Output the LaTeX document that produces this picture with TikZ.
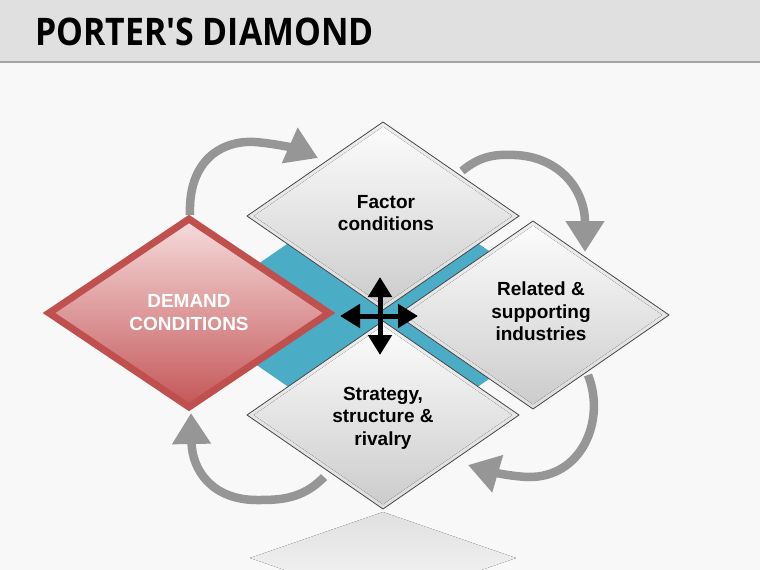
\documentclass[tikz,border=0pt]{standalone}
\usepackage{fontspec}
\setmainfont{Liberation Sans}
\newfontfamily\titlefont{Open Sans}
\usetikzlibrary{shapes.geometric,arrows.meta,calc}
\pgfdeclarelayer{bglayer}
\pgfdeclarelayer{arrowlayer}
\pgfsetlayers{bglayer,arrowlayer,main}
\definecolor{bgc}{RGB}{248,248,248}
\definecolor{barc}{RGB}{224,224,224}
\definecolor{barline}{RGB}{165,165,165}
\definecolor{bluec}{RGB}{75,172,198}
\definecolor{redb}{RGB}{192,80,77}
\definecolor{redtop}{RGB}{246,220,220}
\definecolor{redbot}{RGB}{196,86,88}
\definecolor{arrowc}{RGB}{150,150,150}
\definecolor{edgec}{RGB}{70,70,70}
\definecolor{wouttop}{RGB}{238,238,238}
\definecolor{woutbot}{RGB}{222,222,222}
\definecolor{wintop}{RGB}{252,252,252}
\definecolor{winbot}{RGB}{204,204,204}
\definecolor{refltop}{RGB}{224,224,224}
\begin{document}
\begin{tikzpicture}[x=1pt,y=-1pt,
  dmd/.style={shape=diamond, minimum width=272pt, minimum height=188pt, inner sep=0pt, outer sep=0pt},
  wdmd/.style={dmd, top color=wouttop, bottom color=woutbot, draw=edgec, line width=0.8pt},
  bevel/.style={top color=wintop, bottom color=winbot, draw=none},
  lbl/.style={font=\fontsize{19}{22.5}\selectfont\bfseries, align=center, text=black, inner sep=0pt},
  dlbl/.style={font=\fontsize{19}{23}\selectfont\bfseries, align=center, text=white, inner sep=0pt},
  cyc/.style={draw=arrowc, line width=8.5pt, -{Triangle[length=31pt,width=37pt]}},
  crossarr/.style={draw=black, line width=5pt, {Triangle[length=20pt,width=23pt]}-{Triangle[length=20pt,width=23pt]}}
]
\useasboundingbox (0,0) rectangle (760,570);
\begin{pgfonlayer}{bglayer}
  \fill[bgc] (0,0) rectangle (760,570);
  \fill[barc] (0,0) rectangle (760,61);
  \draw[barline, line width=2pt] (0,62) -- (760,62);
  \fill[top color=refltop, bottom color=bgc] (383,512) -- (516,558) -- (383,604) -- (250,558) -- cycle;
  \node[dmd, minimum width=398pt, minimum height=274pt, fill=bluec] (band) at (383,315) {};
\end{pgfonlayer}

\node[anchor=west, inner sep=0pt, xscale=0.89, transform shape, font=\titlefont\bfseries\fontsize{38}{40}\selectfont] (title) at (35,31.5) {PORTER\textquotesingle S DIAMOND};

% white diamonds
\node[wdmd] (factor) at (383,216) {};
\node[wdmd] (related) at (533,315) {};
\node[wdmd] (strategy) at (383,415) {};
\foreach \n in {factor,related,strategy}{
  \fill[bevel] ($(\n.north)!0.05!(\n.center)$) -- ($(\n.east)!0.05!(\n.center)$) -- ($(\n.south)!0.05!(\n.center)$) -- ($(\n.west)!0.05!(\n.center)$) -- cycle;
}
\node[lbl] (factortext) at (386,213) {Factor\\conditions};
\node[lbl] (relatedtext) at (541,311.5) {Related \&\\supporting\\industries};
\node[lbl] (strategytext) at (383,418) {Strategy,\\structure \&\\rivalry};

% red diamond
\node[dmd, minimum width=280pt, draw=redb, line width=7pt, top color=redtop, bottom color=redbot] (demand) at (189,313) {};
\node[dlbl] (demandtext) at (189,313) {DEMAND\\CONDITIONS};

% central cross
\coordinate (hub) at (380,316);
\draw[crossarr] ($(hub)+(0,-39)$) -- ($(hub)+(0,39)$);
\draw[crossarr] ($(hub)+(-40,0)$) -- ($(hub)+(38,0)$);

% cycle arrows
\begin{pgfonlayer}{arrowlayer}
  \draw[cyc] ($(demand.north)+(1,-4)$) .. controls (188,160) and (222,140) .. (255,142)
     .. controls (280,144) and (300,150) .. ($(factor.north west)+(3,-11)$);
  \draw[cyc] ($(factor.north east)+(11,2)$) .. controls (480,156) and (495,154) .. (515,155)
     .. controls (560,157) and (585,190) .. ($(related.north east)+(-16,-16)$);
  \draw[cyc] ($(related.south east)+(-13,13)$) .. controls (606,420) and (582,478) .. (528,477)
     .. controls (505,476) and (485,470) .. ($(strategy.south east)+(17,3)$);
  \draw[cyc] ($(strategy.south west)+(9,15)$) .. controls (302,500) and (278,500) .. (257,500)
     .. controls (212,500) and (192,470) .. ($(demand.south)+(2,6)$);
\end{pgfonlayer}
\end{tikzpicture}
\end{document}
